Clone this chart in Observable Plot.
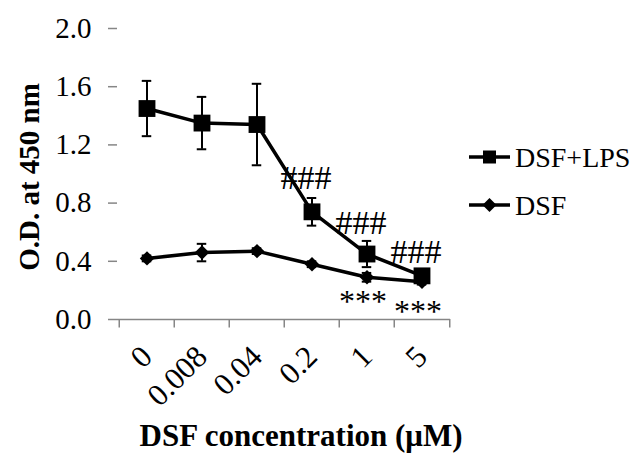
<!DOCTYPE html>
<html>
<head>
<meta charset="utf-8">
<script src="https://cdn.jsdelivr.net/npm/d3@7"></script>
<script src="https://cdn.jsdelivr.net/npm/@observablehq/plot@0.6"></script>
<style>
  body { margin: 0; background: #fff; }
  #wrap { position: relative; width: 643px; height: 455px; }
  #wrap svg { position: absolute; left: 0; top: 0; }
  #wrap svg text { font-family: 'Liberation Serif', 'Times New Roman', serif; }
</style>
</head>
<body>
<div id="wrap"></div>
<script>
// ---- data ----
const categories = ["0", "0.008", "0.04", "0.2", "1", "5"];
const seriesNames = ["DSF+LPS", "DSF"];
const lpsValues = [1.45, 1.35, 1.34, 0.74, 0.45, 0.30];
const lpsErrors = [0.19, 0.18, 0.28, 0.095, 0.09, 0.03];
const dsfValues = [0.42, 0.46, 0.47, 0.38, 0.29, 0.26];
const dsfErrors = [0.02, 0.06, 0.02, 0.02, 0.03, 0.02];
const yTicks = [0, 0.4, 0.8, 1.2, 1.6, 2.0];
const hashLabels = [
  {x: "0.2", y: 0.97, text: "###"},
  {x: "1", y: 0.66, text: "###"},
  {x: "5", y: 0.465, text: "###"}
];
const starLabels = [
  {x: "1", y: 0.125, text: "***"},
  {x: "5", y: 0.055, text: "***"}
];
const yLabel = "O.D. at 450 nm";
const xLabel = "DSF concentration (\u03bcM)";

// ---- build table ----
const rows = [];
categories.forEach((c, i) => {
  rows.push({series: "DSF+LPS", x: c, y: lpsValues[i], err: lpsErrors[i]});
  rows.push({series: "DSF", x: c, y: dsfValues[i], err: dsfErrors[i]});
});
const lpsRows = rows.filter(d => d.series === "DSF+LPS");
const dsfRows = rows.filter(d => d.series === "DSF");

const W = 643, H = 455;
const mL = 117, mR = 193, mT = 28, mB = 136;
const bw = (W - mL - mR) / categories.length;
const gray = "#868686";
const font = "'Liberation Serif', 'Times New Roman', serif";

const chart = Plot.plot({
  width: W,
  height: H,
  marginLeft: mL,
  marginRight: mR,
  marginTop: mT,
  marginBottom: mB,
  style: {fontFamily: font, fontSize: "29px", color: "#000", background: "#fff", overflow: "visible"},
  x: {type: "band", domain: categories, padding: 0},
  y: {domain: [0, 2]},
  marks: [
    Plot.axisY({
      ticks: yTicks, tickFormat: d => d.toFixed(1), tickSize: 9, tickPadding: 17,
      stroke: gray, strokeWidth: 1.5, line: true, label: null, fontSize: 29, fill: "#000", fontFamily: font
    }),
    Plot.axisX({
      tickSize: 0, tickPadding: 32, tickRotate: -45, label: null, fontSize: 31, fill: "#000", fontFamily: font
    }),
    Plot.ruleY([0], {stroke: gray, strokeWidth: 1.5}),
    Plot.ruleX(categories, {x: d => d, dx: -bw / 2, y1: 0, y2: -0.058, stroke: gray, strokeWidth: 1.5}),
    Plot.ruleX([categories[categories.length - 1]], {x: d => d, dx: bw / 2, y1: 0, y2: -0.058, stroke: gray, strokeWidth: 1.5}),
    // error bars
    Plot.ruleX(rows, {x: "x", y1: d => d.y - d.err, y2: d => d.y + d.err, stroke: "#000", strokeWidth: 2}),
    Plot.tickY(rows, {x: "x", y: d => d.y + d.err, stroke: "#000", strokeWidth: 2, insetLeft: bw / 2 - 5, insetRight: bw / 2 - 5}),
    Plot.tickY(rows, {x: "x", y: d => d.y - d.err, stroke: "#000", strokeWidth: 2, insetLeft: bw / 2 - 5, insetRight: bw / 2 - 5}),
    // lines
    Plot.line(lpsRows, {x: "x", y: "y", stroke: "#000", strokeWidth: 3.5}),
    Plot.line(dsfRows, {x: "x", y: "y", stroke: "#000", strokeWidth: 3.5}),
    Plot.dot(lpsRows, {x: "x", y: "y", symbol: "square", r: 9.5, fill: "#000", stroke: null}),
    Plot.dot(dsfRows, {x: "x", y: "y", symbol: "diamond2", r: 6.5, fill: "#000", stroke: null}),
    // annotations
    Plot.text(hashLabels, {x: "x", y: "y", text: "text", dx: -6, fontSize: 34, fill: "#000", fontFamily: font}),
    Plot.text(starLabels, {x: "x", y: "y", text: "text", dx: -4, fontSize: 32, fill: "#000", fontFamily: font}),
    // axis titles
    Plot.text([yLabel], {frameAnchor: "left", textAnchor: "middle", lineAnchor: "middle", dx: -88, dy: 3, rotate: -90,
      fontSize: 29, fontWeight: "bold", fill: "#000", fontFamily: font}),
    Plot.text([xLabel], {frameAnchor: "bottom", textAnchor: "middle", lineAnchor: "middle", dx: 17, dy: 117,
      fontSize: 31, fontWeight: "bold", fill: "#000", fontFamily: font})
  ]
});
document.getElementById("wrap").appendChild(chart);

// ---- legend overlay ----
const leg = d3.select("#wrap").append("svg")
  .attr("width", W).attr("height", H)
  .style("pointer-events", "none");
const legY = [157, 205];
seriesNames.forEach((name, i) => {
  const g = leg.append("g").attr("transform", `translate(469,${legY[i]})`);
  g.append("line").attr("x1", 0).attr("x2", 41).attr("y1", 0).attr("y2", 0)
    .attr("stroke", "#000").attr("stroke-width", 3.5);
  if (i === 0) {
    g.append("rect").attr("x", 14).attr("y", -6.5).attr("width", 13).attr("height", 13).attr("fill", "#000");
  } else {
    g.append("path").attr("d", "M20.5,-7L27.5,0L20.5,7L13.5,0Z").attr("fill", "#000");
  }
  g.append("text").attr("x", 46).attr("y", 0).attr("dy", "0.35em")
    .attr("font-family", font).attr("font-size", 28).attr("fill", "#000").text(name);
});
</script>
</body>
</html>
